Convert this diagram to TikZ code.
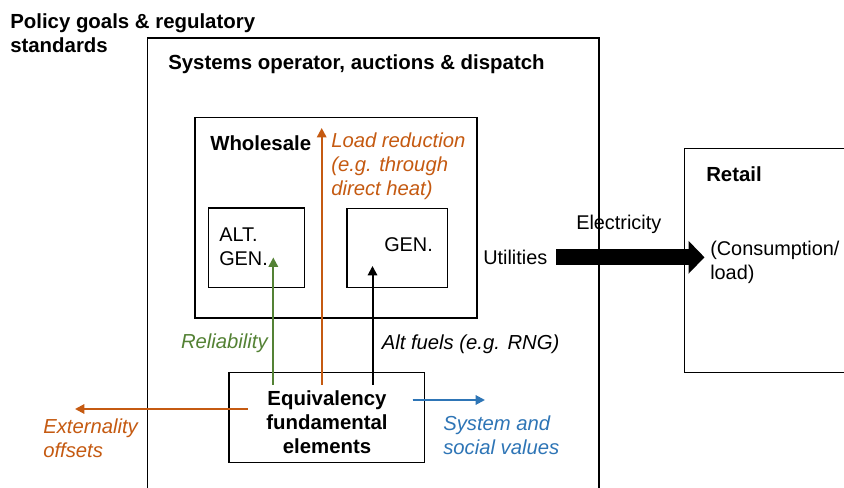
\documentclass[tikz,border=0pt]{standalone}
\usepackage{fontspec}
\setmainfont{Liberation Sans}
\usetikzlibrary{arrows.meta,fit}
\definecolor{cOrange}{HTML}{C55A11}
\definecolor{cGreen}{HTML}{548235}
\definecolor{cBlue}{HTML}{2E75B6}
\tikzset{
  box/.style={draw=black, line width=1pt, inner sep=0pt},
  frame/.style={draw=black, line width=1.1pt},
  txt/.style={inner sep=0pt, font=\fontsize{14.9}{18}\selectfont, align=left},
  btxt/.style={txt, font=\fontsize{15.3}{18}\selectfont\bfseries},
  itxt/.style={txt, font=\fontsize{15.2}{18}\selectfont\itshape},
  conn/.style={line width=1.5pt, -{Triangle[length=7pt,width=7pt]}},
}
\begin{document}
\begin{tikzpicture}[x=0.75pt, y=-0.75pt]
\useasboundingbox (0,0) rectangle (844,488);
\clip (0,0) rectangle (844,488);
\fill[white] (0,0) rectangle (844,488);

% outer frames (open at the picture edges)
\draw[frame] (147.5,495) -- (147.5,38) -- (599,38) -- (599,495);
\draw[frame] (850,148.5) -- (684.5,148.5) -- (684.5,372.5) -- (850,372.5);

% boxes
\node[box, fit={(195,117.5) (477,318)}] (ws) {};
\node[box, fit={(208.5,208) (304.5,287.5)}] (altbox) {};
\node[box, fit={(347,208.5) (447.5,287.5)}] (genbox) {};
\node[box, fit={(229,372.5) (424.5,462.5)}] (eqbox) {};

% texts (multi-line nodes: base anchor = baseline of the last line)
\node[btxt, anchor=base west] (policy) at (10,53) {Policy goals \& regulatory\\standards};
\node[btxt, anchor=base west] (sysop) at (168,70) {Systems operator, auctions \& dispatch};
\node[btxt, anchor=base west] (wholesale) at (210,151) {Wholesale};
\node[itxt, anchor=base west, text=cOrange] (loadred) at (331,196) {Load reduction\\(e.g. through\\direct heat)};
\node[txt, anchor=base west] (alttxt) at (219,265.5) {ALT.\\GEN.};
\node[txt, anchor=base west] (gentxt) at (384,252) {GEN.};
\node[txt, anchor=base west] (util) at (483,265) {Utilities};
\node[txt, anchor=base west] (elec) at (576,230) {Electricity};
\node[btxt, anchor=base west] (retail) at (706,182) {Retail};
\node[txt, anchor=base west] (cons) at (710,280) {(Consumption/\\load)};
\node[itxt, anchor=base east, text=cGreen] (rel) at (268,349) {Reliability};
\node[itxt, anchor=base west] (altf) at (381.5,350) {Alt fuels (e.g. RNG)};
\node[btxt, anchor=base, align=center] (eqtxt) at (327,453.5) {Equivalency\\fundamental\\elements};
\node[itxt, anchor=base west, text=cBlue] (sysval) at (443,455) {System and\\social values};
\node[itxt, anchor=base west, text=cOrange] (ext) at (43,458) {Externality\\offsets};

% connector end points
\coordinate (g0) at (273.3,385);
\coordinate (g1) at (273.3,257.5);
\coordinate (o0) at (321.7,385);
\coordinate (o1) at (321.7,128);
\coordinate (k0) at (372.5,385);
\coordinate (k1) at (372.5,266);
\coordinate (l0) at (247.7,409);
\coordinate (l1) at (75,409);
\coordinate (b0) at (412.7,400);
\coordinate (b1) at (485,400);
\coordinate (e0) at (556,257.3);
\coordinate (e1) at (704.5,257.3);

\draw[conn, draw=cGreen, fill=cGreen] (g0) -- (g1);
\draw[conn, draw=cOrange, fill=cOrange] (o0) -- (o1);
\draw[conn, draw=black, fill=black] (k0) -- (k1);
\draw[conn, draw=cOrange, fill=cOrange] (l0) -- (l1);
\draw[conn, draw=cBlue, fill=cBlue] (b0) -- (b1);
\draw[line width=12pt, -{Triangle[length=12pt,width=24pt]}] (e0) -- (e1);
\end{tikzpicture}
\end{document}
